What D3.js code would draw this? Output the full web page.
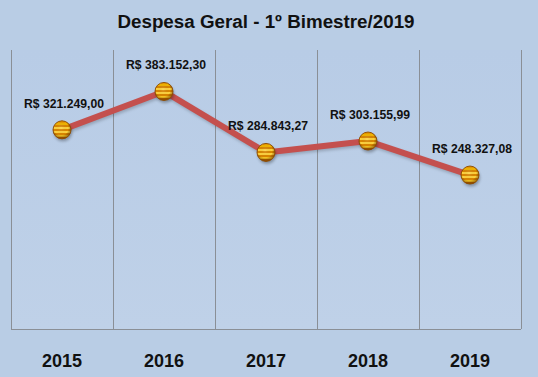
<!DOCTYPE html>
<html>
<head>
<meta charset="utf-8">
<script src="https://cdn.jsdelivr.net/npm/d3@7"></script>
<style>
  body { margin: 0; background: #b9cde5; }
  svg { display: block; }
  .title { font: bold 18.8px "Liberation Sans", Arial, sans-serif; fill: #111; }
  .year { font: bold 18px "Liberation Sans", Arial, sans-serif; fill: #111; }
  .label { font: bold 12.2px "Liberation Sans", Arial, sans-serif; fill: #111; }
</style>
</head>
<body>
<div id="chart"></div>
<script>
const years = ["2015", "2016", "2017", "2018", "2019"];
const values = [321249.00, 383152.30, 284843.27, 303155.99, 248327.08];
const yMax = 450000;

const width = 538, height = 377;
const margin = { top: 50, right: 17, bottom: 48, left: 11 };
const innerW = width - margin.left - margin.right;
const innerH = height - margin.top - margin.bottom;

const br = d3.formatLocale({ decimal: ",", thousands: ".", grouping: [3], currency: ["R$ ", ""] });
const fmt = br.format("$,.2f");

const data = years.map((y, i) => ({ year: y, value: values[i] }));

const svg = d3.select("#chart").append("svg")
  .attr("width", width).attr("height", height);

const defs = svg.append("defs");

// plot area gradient
const bgGrad = defs.append("linearGradient").attr("id", "plotbg")
  .attr("x1", 0).attr("y1", 0).attr("x2", 0).attr("y2", 1);
bgGrad.append("stop").attr("offset", "0%").attr("stop-color", "#b8cce6");
bgGrad.append("stop").attr("offset", "100%").attr("stop-color", "#bfd1e8");

// striped ball
const stripe = defs.append("linearGradient").attr("id", "ball")
  .attr("x1", 0).attr("y1", 0).attr("x2", 0).attr("y2", 1);
const bands = ["#e89a00", "#f2b400", "#d98500", "#ffd23c", "#db8700", "#ffd23c", "#d98500", "#f5c020", "#c06c00"];
bands.forEach((c, i) => {
  stripe.append("stop").attr("offset", (i / bands.length * 100) + "%").attr("stop-color", c);
  stripe.append("stop").attr("offset", ((i + 1) / bands.length * 100) + "%").attr("stop-color", c);
});
const shade = defs.append("radialGradient").attr("id", "shade")
  .attr("cx", "45%").attr("cy", "40%").attr("r", "60%");
shade.append("stop").attr("offset", "0%").attr("stop-color", "#fff").attr("stop-opacity", 0.15);
shade.append("stop").attr("offset", "65%").attr("stop-color", "#000").attr("stop-opacity", 0);
shade.append("stop").attr("offset", "100%").attr("stop-color", "#6a3000").attr("stop-opacity", 0.55);

const blur = defs.append("filter").attr("id", "shadow").attr("x", "-50%").attr("y", "-50%")
  .attr("width", "200%").attr("height", "200%");
blur.append("feGaussianBlur").attr("stdDeviation", 1.5);

svg.append("text")
  .attr("class", "title")
  .attr("x", margin.left + innerW / 2)
  .attr("y", 28)
  .attr("text-anchor", "middle")
  .text("Despesa Geral - 1º Bimestre/2019");

const chart = svg.append("g")
  .attr("transform", `translate(${margin.left},${margin.top})`);

const x = d3.scaleBand().domain(years).range([0, innerW]);
const y = d3.scaleLinear().domain([0, yMax]).range([innerH, 0]);

chart.append("rect")
  .attr("width", innerW).attr("height", innerH)
  .attr("fill", "url(#plotbg)");

// vertical gridlines at category boundaries
const bounds = years.map(d => x(d)).concat([innerW]);
chart.selectAll(".grid")
  .data(bounds)
  .join("line")
  .attr("class", "grid")
  .attr("x1", d => d + 0.5).attr("x2", d => d + 0.5)
  .attr("y1", 0).attr("y2", innerH)
  .attr("stroke", "#8a8f96").attr("stroke-width", 1);

chart.append("line")
  .attr("x1", 0).attr("x2", innerW)
  .attr("y1", innerH + 0.5).attr("y2", innerH + 0.5)
  .attr("stroke", "#8a8f96");

// year labels
chart.selectAll(".year")
  .data(years)
  .join("text")
  .attr("class", "year")
  .attr("x", d => x(d) + x.bandwidth() / 2)
  .attr("y", innerH + 38)
  .attr("text-anchor", "middle")
  .text(d => d);

const line = d3.line()
  .x(d => x(d.year) + x.bandwidth() / 2)
  .y(d => y(d.value));

chart.append("path")
  .datum(data)
  .attr("d", line)
  .attr("fill", "none")
  .attr("stroke", "#000").attr("stroke-opacity", 0.2)
  .attr("stroke-width", 6)
  .attr("transform", "translate(1,2)")
  .attr("filter", "url(#shadow)");

chart.append("path")
  .datum(data)
  .attr("d", line)
  .attr("fill", "none")
  .attr("stroke", "#c4504e")
  .attr("stroke-width", 6)
  .attr("stroke-linejoin", "round");

const pts = chart.selectAll(".pt")
  .data(data)
  .join("g")
  .attr("class", "pt")
  .attr("transform", d => `translate(${x(d.year) + x.bandwidth() / 2},${y(d.value)})`);

pts.append("circle")
  .attr("r", 9).attr("cx", 1).attr("cy", 2.5)
  .attr("fill", "#000").attr("opacity", 0.3)
  .attr("filter", "url(#shadow)");
pts.append("circle")
  .attr("r", 9)
  .attr("fill", "url(#ball)");
pts.append("circle")
  .attr("r", 9)
  .attr("fill", "url(#shade)")
  .attr("stroke", "#8a4a00").attr("stroke-width", 0.9);

pts.append("text")
  .attr("class", "label")
  .attr("x", 2)
  .attr("y", -22)
  .attr("text-anchor", "middle")
  .text(d => fmt(d.value));
</script>
</body>
</html>
